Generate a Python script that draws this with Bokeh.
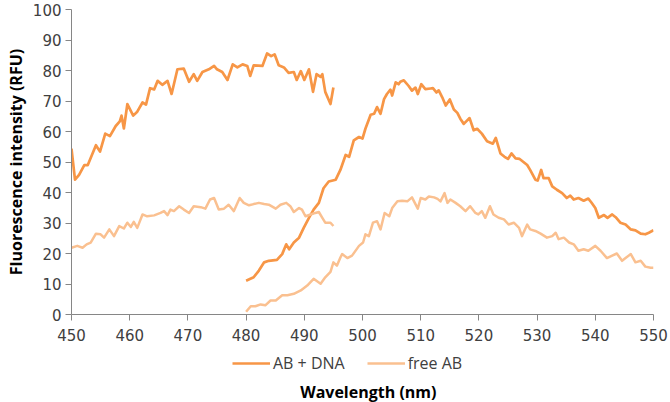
import math
from bokeh.plotting import figure
from bokeh.layouts import column
from bokeh.models import Legend, LegendItem, Range1d, FixedTicker, ColumnDataSource, Label
from bokeh.embed import file_html
from bokeh.resources import INLINE

nan = float("nan")

# AB + DNA, first segment (450-495 nm)
dna1_x = [450, 450.6, 451.3, 452.2, 452.8, 454.2, 454.9, 455.8, 456.6, 457.6, 458.3, 458.6, 459, 459.6,
          460.6, 461.3, 462.2, 462.8, 463.5, 464.2, 464.8, 465.6, 466.5, 467.2, 468.2, 469.3, 470.2, 471,
          471.6, 472.5, 473.6, 474.5, 475, 475.9, 476.8, 477.7, 478.5, 479.4, 480.2, 480.7, 481.3, 482.8,
          483.6, 484.3, 484.9, 485.6, 486.5, 487.3, 488.2, 488.7, 489.4, 490, 490.8, 491.5, 492.1, 492.8,
          493.1, 493.6, 494.5, 495]
dna1_y = [54.4, 44.2, 45.8, 49, 49, 55.5, 53.4, 59.3, 58.5, 61.8, 63.3, 65.2, 61, 69,
          65.2, 66.5, 69.5, 68.8, 74.2, 73.8, 76.6, 75.3, 76.6, 72.3, 80.4, 80.6, 76.3, 78.8,
          76.6, 79.5, 80.4, 81.5, 80.4, 79.5, 76.9, 82, 81, 82, 81.5, 78.2, 81.7, 81.5,
          85.6, 84.7, 85.3, 81.7, 81, 79.2, 79.5, 76.9, 79.8, 76.9, 80.4, 73, 78.8, 77.9,
          78.8, 73, 69, 74.4]

# AB + DNA, second segment (480-550 nm)
dna2_x = [480, 481.3, 482.2, 483.1, 483.9, 485.3, 486.2, 486.9, 487.4, 488.2, 489.1, 489.9, 490.8, 491.6,
          492.5, 493.3, 494.2, 495.4, 496.2, 497.1, 497.7, 498.5, 499.4, 500, 500.5, 501.4, 502, 502.5,
          503.1, 503.7, 504.2, 504.8, 505.1, 505.7, 506.2, 506.5, 507.1, 507.9, 508.5, 509.1, 509.5, 510.1,
          510.8, 511.7, 512.1, 512.7, 513.1, 513.7, 514.3, 515, 515.7, 516.3, 516.8, 517.4, 518.4, 519.1,
          519.7, 520.5, 521.4, 522.4, 522.9, 523.7, 524.4, 525, 525.6, 526.3, 527, 527.6, 528.3, 528.8,
          529.7, 530.1, 530.7, 531.1, 532, 532.6, 533.4, 534.3, 535.1, 535.7, 536.3, 537.1, 538, 538.8,
          539.3, 540, 540.6, 541.5, 542.1, 542.9, 543.5, 544.3, 545.2, 546.1, 546.9, 547.8, 548.6, 549.2, 550]
dna2_y = [11.1, 12.2, 14.4, 17.1, 17.6, 17.9, 19.8, 23, 21.4, 23.6, 25.2, 28.4, 31.7, 34.4,
          36.6, 41.4, 43.6, 44.2, 47.4, 52.3, 51.7, 57.1, 58.2, 57.7, 60.9, 65.5, 65.8, 68,
          65.8, 70.6, 72.3, 73.7, 71.8, 76.1, 75.5, 76.3, 76.8, 75, 73.4, 74.4, 72.3, 75.5,
          73.9, 74.1, 74.2, 72.8, 73.5, 71.2, 68.5, 70.5, 67.2, 66.1, 64.2, 62.5, 64.4, 60.4,
          60.9, 59.3, 56.8, 56, 57.9, 52.8, 51.7, 51, 52.8, 51.2, 51, 50.1, 49, 47.4,
          44.2, 43.9, 47.4, 44.7, 44.7, 42, 40.9, 39.8, 38.2, 39, 37.7, 38.2, 37.3, 38,
          36.8, 34.9, 31.7, 32.6, 31.7, 32.8, 31.9, 30.1, 29.5, 27.9, 27.6, 26.5, 26.3, 26.8, 27.6]

# free AB, first segment (450-495 nm)
free1_x = [450, 451, 451.9, 452.6, 453.3, 454.2, 455, 455.6, 456.5, 457.3, 458.2, 459, 459.6, 460.2,
           460.7, 461.3, 462.2, 463, 464.2, 465.3, 465.9, 466.5, 467, 467.6, 468.5, 469.3, 470.2, 471,
           472.2, 473, 473.8, 474.5, 475.3, 476.2, 477, 477.9, 478.9, 479.6, 480.5, 481.3, 482.2, 483.1,
           483.9, 485.1, 485.9, 486.9, 487.6, 488.2, 489.1, 489.6, 490.2, 491.1, 491.9, 492.5, 493.1, 493.6,
           494.5, 495]
free1_y = [21.9, 22.5, 21.9, 23, 23.6, 26.5, 26.3, 25.2, 27.9, 25.7, 29, 28.2, 30.1, 28.7,
           30.4, 28.4, 32.8, 32.2, 32.5, 33.3, 33.9, 32.6, 34.4, 33.9, 35.5, 34.4, 33.3, 35.5,
           35.2, 34.7, 37.7, 38.2, 34.4, 34.7, 36, 33.9, 38.2, 36.6, 35.8, 36.2, 36.6, 36.2,
           36, 34.7, 36, 36.6, 35.5, 33.6, 34.9, 34.4, 32.2, 32.8, 33.3, 33.6, 31.7, 30.1,
           30.1, 29]

# free AB, second segment (480-550 nm)
free2_x = [480, 480.8, 481.6, 482.5, 483.3, 484.2, 485.1, 486.2, 487.1, 488.2, 489.4, 490.5, 491.6, 492.8,
           493.6, 494.5, 495, 495.6, 496.2, 496.5, 497.4, 498.2, 499.4, 500.1, 500.5, 501.1, 501.8, 502.5,
           503.1, 503.8, 504.6, 505.1, 506, 506.8, 507.7, 508.5, 509.5, 510, 510.8, 511.4, 512.3, 512.9,
           513.4, 514.1, 514.6, 515.1, 516, 516.8, 517.7, 518.5, 519.4, 519.9, 520.5, 521.1, 521.9, 522.5,
           523.4, 524.3, 525.1, 526, 526.9, 527.4, 528.3, 528.8, 529.7, 530.6, 531.7, 532.6, 533.2, 533.7,
           534.6, 535.5, 536.3, 537.1, 538, 538.8, 540, 540.9, 542, 542.9, 543.7, 544.6, 545.2, 546.1,
           546.9, 547.8, 548.6, 549.5, 550]
free2_y = [0.9, 2.7, 2.7, 3.3, 3, 4.6, 4.6, 6.3, 6.3, 6.8, 7.9, 9.5, 11.7, 10.1,
           12.2, 14, 17.1, 16, 18.7, 19.8, 18.5, 19.3, 22.5, 23.6, 26.3, 25.7, 30.1, 30.6,
           27.9, 33.3, 32.2, 34.9, 37.1, 37.3, 37.1, 38.4, 34.7, 38.2, 37.7, 38.7, 38.4, 37.9,
           37.1, 39.8, 36.6, 37.7, 36.6, 35.5, 33.9, 35.5, 33.3, 32.8, 33.9, 31.7, 35.5, 32.8,
           31.7, 31.2, 29.5, 30.1, 28.4, 25.7, 29.5, 27.9, 27.4, 26.5, 25.2, 25.7, 26.8, 24.7,
           25.2, 23.6, 23, 20.9, 21.4, 20.9, 22.5, 20.9, 18.5, 19.3, 20, 17.6, 18.5, 19.8,
           17.1, 17.6, 15.7, 15.3, 15.3]

x_ticks = [450, 460, 470, 480, 490, 500, 510, 520, 530, 540, 550]
y_ticks = [0, 10, 20, 30, 40, 50, 60, 70, 80, 90, 100]

series_names = ["AB + DNA", "free AB"]
series_colors = ["#F79646", "#FAC090"]
x_title = "Wavelength (nm)"
y_title = "Fluorescence intensity (RFU)"

# ---- main chart ----
p = figure(width=670, height=346, output_backend="svg", toolbar_location=None,
           x_range=Range1d(450, 550), y_range=Range1d(0, 100),
           min_border_left=71, min_border_right=17, min_border_top=9, min_border_bottom=32)
p.outline_line_color = None
p.grid.visible = False

dna_src = ColumnDataSource(dict(x=dna1_x + [nan] + dna2_x, y=dna1_y + [nan] + dna2_y))
free_src = ColumnDataSource(dict(x=free1_x + [nan] + free2_x, y=free1_y + [nan] + free2_y))

p.line("x", "y", source=dna_src, line_color=series_colors[0], line_width=2.7, line_join="round")
p.line("x", "y", source=free_src, line_color=series_colors[1], line_width=2.5, line_join="round")

for ax in (p.xaxis[0], p.yaxis[0]):
    ax.axis_line_color = "#868686"
    ax.major_tick_line_color = "#868686"
    ax.minor_tick_line_color = None
    ax.major_tick_out = 6
    ax.major_tick_in = 0
    ax.major_label_text_font = "DejaVu Sans"
    ax.major_label_text_font_size = "15px"
    ax.major_label_text_color = "#404040"
    ax.axis_label_text_font = "Open Sans"
    ax.axis_label_text_font_style = "bold"
    ax.axis_label_text_font_size = "16px"
    ax.axis_label_text_color = "#000000"

p.xaxis[0].ticker = FixedTicker(ticks=x_ticks)
p.yaxis[0].ticker = FixedTicker(ticks=y_ticks)
p.yaxis[0].axis_label = y_title
p.xaxis[0].major_label_standoff = 8
p.yaxis[0].major_label_standoff = 4
p.yaxis[0].axis_label_standoff = 3

# ---- legend + x-axis title strip ----
q = figure(width=670, height=56, output_backend="svg", toolbar_location=None,
           x_range=Range1d(450, 550), y_range=Range1d(0, 56),
           min_border_left=71, min_border_right=17, min_border_top=0, min_border_bottom=0)
q.outline_line_color = None
q.grid.visible = False
q.axis.visible = False

# legend key renderers (hold no visible data)
k1 = q.line(x=[nan], y=[nan], line_color=series_colors[0], line_width=2.7)
k2 = q.line(x=[nan], y=[nan], line_color=series_colors[1], line_width=2.5)

legend = Legend(items=[LegendItem(label=series_names[0], renderers=[k1]),
                       LegendItem(label=series_names[1], renderers=[k2])],
                location=(161, 28), orientation="horizontal",
                border_line_color=None, background_fill_alpha=0,
                padding=0, margin=0, spacing=22, label_standoff=3,
                glyph_width=38, glyph_height=20, label_height=20,
                label_text_font="Open Sans", label_text_font_size="16px",
                label_text_color="#404040")
q.add_layout(legend, "center")

q.add_layout(Label(x=501, y=11, text=x_title, text_align="center", text_baseline="middle",
                   text_font="Open Sans", text_font_style="bold", text_font_size="16px",
                   text_color="#000000"))

layout = column(p, q, spacing=0)
open("out.html", "w").write(file_html(layout, INLINE))
